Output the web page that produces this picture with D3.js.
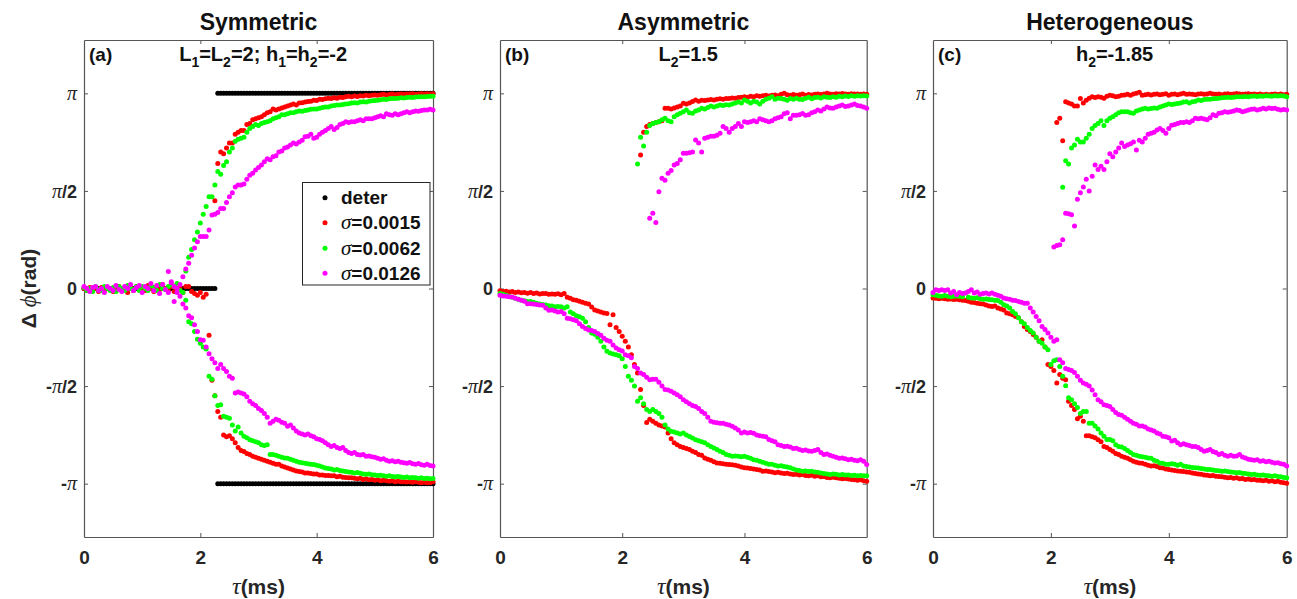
<!DOCTYPE html>
<html><head><meta charset="utf-8">
<script src="https://cdn.jsdelivr.net/npm/d3@7"></script>
<style>body{margin:0;background:#fff}svg{display:block}</style>
</head><body>
<svg id="c" width="1297" height="599"></svg>
<script>
// ---------- data (phase difference in units of pi, tau step 0.05 ms) ----------
const tauStep = 0.05;
const xTicks = [0, 2, 4, 6];
const yTicks = [-1, -0.5, 0, 0.5, 1];
const yTickLabels = [["-", "π", ""], ["-", "π", "/2"], ["0", "", ""], ["", "π", "/2"], ["", "π", ""]];
const panelTitles = ["Symmetric", "Asymmetric", "Heterogeneous"];
const panelTags = ["(a)", "(b)", "(c)"];
const seriesNames = ["deter", "σ=0.0015", "σ=0.0062", "σ=0.0126"];
const seriesColors = ["#000000", "#ff0000", "#00ff00", "#ff00ff"];

// deterministic (panel a): level segments [tauStart, tauEnd, value]
const deterA = [[0, 2.25, 0], [2.3, 6, 1], [2.3, 6, -1]];

// ---- panel (a) ----
const aRedLo = [0,-0.01,0.005,-0.01,0,-0.015,0.005,-0.01,0,-0.005,
-0.015,0,0.01,-0.01,0,-0.02,0.005,-0.01,0.01,-0.005,
0,-0.01,0.015,0,-0.015,0.01,-0.005,0.02,0,-0.01,
0.01,-0.015,0.02,0.005,-0.02,0.01,0.01,-0.015,-0.025,-0.035,
-0.02,-0.045,-0.03,-0.24,-0.47,-0.55,-0.63,-0.66,-0.75,-0.76,
-0.755,-0.77,-0.79,-0.815,-0.83,-0.835,-0.845,-0.85,-0.86,-0.865,
-0.87,-0.875,-0.88,-0.885,-0.89,-0.895,-0.9,-0.9,-0.91,-0.915,
-0.92,-0.925,-0.93,-0.935,-0.937,-0.94,-0.945,-0.945,-0.948,-0.95,
-0.95,-0.955,-0.955,-0.958,-0.958,-0.96,-0.96,-0.965,-0.962,-0.967,
-0.968,-0.97,-0.97,-0.972,-0.975,-0.972,-0.978,-0.975,-0.98,-0.978,
-0.982,-0.98,-0.985,-0.983,-0.985,-0.988,-0.985,-0.99,-0.988,-0.99,
-0.99,-0.992,-0.99,-0.993,-0.99,-0.993,-0.995,-0.993,-0.995,-0.995,-0.99];
const aRedHiStart = 2.25;
const aRedHi = [0.45,0.64,0.70,0.69,0.72,0.745,0.745,0.79,0.80,0.81,
0.81,0.84,0.845,0.865,0.87,0.875,0.88,0.89,0.9,0.905,
0.92,0.915,0.92,0.925,0.93,0.935,0.94,0.945,0.94,0.95,
0.952,0.955,0.958,0.96,0.965,0.963,0.97,0.968,0.972,0.975,
0.973,0.977,0.975,0.98,0.978,0.982,0.985,0.983,0.986,0.984,
0.988,0.986,0.99,0.988,0.99,0.992,0.99,0.993,0.995,0.992,
0.994,0.996,0.993,0.995,0.997,0.995,0.997,0.996,0.998,0.995,
0.997,0.998,0.996,0.998,0.997,0.998];
const aGreenLo = [0.005,-0.01,0,-0.015,0.01,-0.005,-0.01,0.01,0,-0.01,
0.005,-0.015,0.01,0,-0.01,0.015,0,-0.005,0.01,-0.01,
0.01,0,-0.01,0.015,0.005,-0.01,0.02,0,-0.005,0.01,
0.02,0.01,0.025,-0.01,-0.02,-0.06,-0.17,-0.18,-0.22,-0.26,
-0.28,-0.3,-0.31,-0.45,-0.465,-0.55,-0.6,-0.595,-0.655,-0.66,
-0.665,-0.7,-0.73,-0.71,-0.74,-0.757,-0.765,-0.775,-0.78,-0.785,
-0.79,-0.8,-0.805,-0.8,-0.85,-0.85,-0.855,-0.86,-0.865,-0.868,
-0.87,-0.875,-0.88,-0.885,-0.89,-0.893,-0.895,-0.898,-0.9,-0.902,
-0.905,-0.91,-0.915,-0.92,-0.922,-0.925,-0.93,-0.928,-0.932,-0.935,
-0.938,-0.94,-0.942,-0.945,-0.943,-0.947,-0.95,-0.952,-0.95,-0.954,
-0.955,-0.958,-0.957,-0.96,-0.962,-0.96,-0.963,-0.965,-0.963,-0.966,
-0.968,-0.966,-0.97,-0.968,-0.97,-0.972,-0.97,-0.973,-0.972,-0.975,-0.973];
const aGreenHiStart = 1.75;
const aGreenHi = [0.09,0.16,0.2,0.25,0.29,0.335,0.38,0.42,0.47,0.47,
0.53,0.6,0.585,0.63,0.65,0.7,0.72,0.755,0.765,0.77,
0.775,0.8,0.82,0.83,0.84,0.835,0.845,0.85,0.855,0.86,
0.87,0.875,0.88,0.89,0.89,0.895,0.9,0.9,0.905,0.91,
0.908,0.912,0.915,0.918,0.92,0.92,0.923,0.928,0.93,0.93,
0.935,0.938,0.94,0.94,0.943,0.945,0.947,0.95,0.952,0.95,
0.955,0.957,0.955,0.96,0.962,0.963,0.965,0.967,0.97,0.968,
0.972,0.974,0.973,0.975,0.977,0.976,0.978,0.98,0.979,0.981,
0.982,0.983,0.982,0.984,0.985,0.985];
const aMagLo = [0.01,0,-0.015,0.005,0.01,-0.01,0,-0.02,0.01,0,
-0.01,0.015,-0.005,-0.015,0.01,0,0.02,-0.01,0.005,0.015,
-0.02,0.01,0,0.025,-0.01,0.015,-0.025,0.02,-0.005,-0.02,
0.03,-0.067,-0.02,-0.04,-0.08,-0.1,-0.14,-0.15,-0.186,-0.22,
-0.262,-0.265,-0.3,-0.334,-0.36,-0.38,-0.41,-0.39,-0.41,-0.425,
-0.45,-0.46,-0.535,-0.53,-0.535,-0.54,-0.555,-0.578,-0.59,-0.6,
-0.615,-0.625,-0.64,-0.66,-0.69,-0.68,-0.67,-0.675,-0.685,-0.69,
-0.706,-0.7,-0.715,-0.73,-0.74,-0.745,-0.75,-0.745,-0.755,-0.76,
-0.77,-0.774,-0.78,-0.79,-0.8,-0.81,-0.805,-0.815,-0.82,-0.815,
-0.83,-0.84,-0.845,-0.84,-0.85,-0.853,-0.85,-0.86,-0.858,-0.862,
-0.865,-0.87,-0.875,-0.872,-0.88,-0.885,-0.882,-0.888,-0.885,-0.89,
-0.893,-0.895,-0.892,-0.898,-0.9,-0.897,-0.903,-0.905,-0.9,-0.907,-0.91];
const aMagHiStart = 1.45;
const aMagHi = [0.087,0.035,0.01,0.0,0.02,0.06,0.1,0.13,0.17,0.207,
0.24,0.266,0.266,0.266,0.3,0.377,0.38,0.39,0.41,0.41,
0.44,0.47,0.49,0.52,0.53,0.53,0.535,0.56,0.58,0.59,
0.607,0.62,0.633,0.65,0.665,0.66,0.675,0.68,0.7,0.705,
0.72,0.725,0.735,0.745,0.74,0.75,0.76,0.778,0.78,0.79,
0.77,0.775,0.79,0.8,0.81,0.82,0.83,0.815,0.825,0.84,
0.845,0.855,0.85,0.855,0.855,0.86,0.865,0.86,0.87,0.87,
0.87,0.875,0.88,0.885,0.88,0.895,0.89,0.888,0.895,0.89,
0.895,0.9,0.905,0.9,0.905,0.91,0.908,0.912,0.915,0.915,
0.918,0.915];

// ---- panel (b) ----
const bRedLo = [-0.012,-0.015,-0.014,-0.018,-0.016,-0.02,-0.018,-0.022,-0.02,-0.024,
-0.02,-0.025,-0.023,-0.028,-0.026,-0.025,-0.03,-0.028,-0.03,-0.027,
-0.032,-0.025,-0.045,-0.05,-0.058,-0.06,-0.065,-0.07,-0.075,-0.08,
-0.095,-0.11,-0.115,-0.12,-0.125,-0.128,-0.186,-0.135,-0.2,-0.22,
-0.245,-0.27,-0.3,-0.34,-0.39,-0.433,-0.518,-0.6,-0.686,-0.67,
-0.68,-0.69,-0.70,-0.705,-0.71,-0.74,-0.77,-0.79,-0.80,-0.81,
-0.815,-0.82,-0.825,-0.834,-0.84,-0.85,-0.855,-0.868,-0.875,-0.88,
-0.888,-0.894,-0.896,-0.898,-0.9,-0.902,-0.903,-0.905,-0.91,-0.915,
-0.919,-0.92,-0.922,-0.925,-0.928,-0.93,-0.936,-0.935,-0.938,-0.94,
-0.944,-0.942,-0.945,-0.948,-0.947,-0.95,-0.953,-0.952,-0.955,-0.953,
-0.958,-0.96,-0.957,-0.962,-0.96,-0.965,-0.963,-0.968,-0.97,-0.967,
-0.97,-0.972,-0.975,-0.973,-0.976,-0.978,-0.98,-0.982,-0.98,-0.985,-0.988];
const bRedHiStart = 2.3;
const bRedHi = [0.684,0.8,0.83,0.84,0.845,0.85,0.855,0.86,0.923,0.923,
0.92,0.925,0.93,0.935,0.949,0.945,0.95,0.958,0.966,0.96,
0.965,0.963,0.966,0.968,0.966,0.97,0.972,0.97,0.974,0.973,
0.976,0.975,0.978,0.98,0.983,0.98,0.985,0.983,0.987,0.985,
0.988,0.99,0.986,0.99,0.992,0.988,0.995,1.0,0.993,0.99,
0.994,0.99,0.993,0.996,0.99,0.994,0.992,0.995,0.997,0.994,
0.996,1.0,0.997,0.995,0.998,0.996,0.999,0.997,0.995,0.998,
0.996,0.997,0.995,0.997,0.995];
const bGreenLo = [-0.026,-0.03,-0.035,-0.04,-0.045,-0.05,-0.055,-0.06,-0.063,-0.067,
-0.067,-0.07,-0.075,-0.08,-0.082,-0.085,-0.088,-0.09,-0.094,-0.092,
-0.094,-0.1,-0.094,-0.12,-0.13,-0.14,-0.145,-0.152,-0.17,-0.2,
-0.228,-0.235,-0.25,-0.27,-0.3,-0.322,-0.33,-0.335,-0.34,-0.345,
-0.36,-0.4,-0.45,-0.47,-0.5,-0.578,-0.56,-0.59,-0.62,-0.63,
-0.62,-0.63,-0.64,-0.66,-0.7,-0.72,-0.732,-0.735,-0.74,-0.745,
-0.74,-0.75,-0.758,-0.766,-0.775,-0.78,-0.785,-0.79,-0.8,-0.81,
-0.817,-0.825,-0.834,-0.84,-0.85,-0.855,-0.86,-0.858,-0.86,-0.862,
-0.86,-0.865,-0.87,-0.877,-0.88,-0.885,-0.89,-0.895,-0.9,-0.9,
-0.905,-0.91,-0.908,-0.912,-0.915,-0.919,-0.925,-0.93,-0.932,-0.936,
-0.935,-0.938,-0.936,-0.94,-0.942,-0.945,-0.948,-0.95,-0.953,-0.95,
-0.952,-0.955,-0.953,-0.956,-0.955,-0.958,-0.957,-0.96,-0.958,-0.96,-0.96];
const bGreenHiStart = 2.25;
const bGreenHi = [0.638,0.775,0.73,0.8,0.835,0.845,0.85,0.855,0.865,0.872,
0.86,0.855,0.88,0.89,0.898,0.905,0.915,0.9,0.898,0.91,
0.915,0.923,0.92,0.928,0.935,0.93,0.935,0.94,0.938,0.942,
0.94,0.945,0.95,0.955,0.95,0.966,0.96,0.95,0.96,0.955,
0.945,0.96,0.97,0.975,0.983,0.97,0.975,0.974,0.97,0.965,
0.974,0.97,0.975,0.97,0.968,0.975,0.98,0.972,0.978,0.98,
0.976,0.982,0.98,0.978,0.983,0.98,0.985,0.983,0.986,0.984,
0.987,0.985,0.988,0.986,0.987,0.986];
const bMagLo = [-0.035,-0.038,-0.04,-0.042,-0.044,-0.05,-0.055,-0.06,-0.065,-0.078,
-0.078,-0.08,-0.082,-0.085,-0.086,-0.1,-0.112,-0.11,-0.115,-0.12,
-0.118,-0.13,-0.152,-0.155,-0.16,-0.165,-0.18,-0.195,-0.205,-0.212,
-0.215,-0.22,-0.23,-0.24,-0.255,-0.265,-0.27,-0.29,-0.305,-0.314,
-0.32,-0.34,-0.345,-0.355,-0.4,-0.41,-0.433,-0.44,-0.455,-0.467,
-0.465,-0.465,-0.48,-0.5,-0.518,-0.52,-0.527,-0.535,-0.544,-0.555,
-0.57,-0.58,-0.59,-0.6,-0.605,-0.615,-0.63,-0.64,-0.66,-0.68,
-0.685,-0.688,-0.69,-0.69,-0.695,-0.7,-0.706,-0.715,-0.725,-0.74,
-0.735,-0.74,-0.738,-0.742,-0.75,-0.755,-0.757,-0.76,-0.774,-0.78,
-0.785,-0.8,-0.805,-0.81,-0.808,-0.812,-0.82,-0.818,-0.825,-0.83,
-0.828,-0.832,-0.834,-0.83,-0.825,-0.84,-0.85,-0.848,-0.855,-0.86,
-0.865,-0.87,-0.868,-0.872,-0.877,-0.875,-0.88,-0.882,-0.878,-0.885,-0.902];
const bMagHiStart = 2.45;
const bMagHi = [0.36,0.385,0.338,0.496,0.565,0.555,0.59,0.605,0.633,0.64,
0.66,0.693,0.693,0.695,0.7,0.761,0.745,0.70,0.77,0.775,
0.78,0.78,0.785,0.795,0.83,0.82,0.8,0.82,0.83,0.846,
0.83,0.855,0.85,0.855,0.86,0.855,0.87,0.865,0.86,0.855,
0.86,0.87,0.875,0.88,0.895,0.9,0.87,0.888,0.888,0.89,
0.897,0.888,0.89,0.9,0.905,0.914,0.91,0.92,0.93,0.925,
0.923,0.93,0.935,0.94,0.932,0.935,0.94,0.945,0.938,0.935,
0.93,0.923];

// ---- panel (c) ----
const cRedLo = [-0.049,-0.05,-0.052,-0.05,-0.053,-0.055,-0.054,-0.056,-0.055,-0.058,
-0.06,-0.062,-0.065,-0.07,-0.072,-0.075,-0.078,-0.08,-0.085,-0.09,
-0.092,-0.09,-0.1,-0.105,-0.11,-0.126,-0.13,-0.135,-0.143,-0.15,
-0.17,-0.195,-0.21,-0.22,-0.236,-0.25,-0.27,-0.262,-0.3,-0.39,
-0.4,-0.42,-0.484,-0.44,-0.46,-0.467,-0.578,-0.6,-0.62,-0.668,
-0.655,-0.68,-0.754,-0.755,-0.76,-0.765,-0.775,-0.785,-0.81,-0.815,
-0.825,-0.834,-0.845,-0.85,-0.86,-0.865,-0.87,-0.878,-0.885,-0.89,
-0.894,-0.895,-0.9,-0.905,-0.91,-0.908,-0.912,-0.918,-0.92,-0.925,
-0.928,-0.93,-0.932,-0.935,-0.936,-0.938,-0.94,-0.942,-0.945,-0.948,
-0.95,-0.952,-0.955,-0.957,-0.96,-0.958,-0.962,-0.963,-0.965,-0.967,
-0.97,-0.968,-0.972,-0.97,-0.975,-0.973,-0.978,-0.976,-0.98,-0.978,
-0.983,-0.982,-0.985,-0.983,-0.987,-0.985,-0.99,-0.988,-0.993,-0.995,-0.998];
const cRedHiStart = 2.1;
const cRedHi = [0.85,0.872,0.757,0.957,0.95,0.945,0.935,0.935,0.974,0.95,
0.965,0.975,0.983,0.978,0.983,0.98,0.975,0.985,0.99,0.988,
0.983,0.985,0.99,0.992,0.995,0.99,0.996,1.0,1.005,0.99,
0.993,0.995,0.992,0.995,0.997,0.993,0.995,0.998,0.99,0.995,
0.997,0.993,0.996,1.0,0.995,0.997,0.995,0.993,0.996,0.998,
0.995,0.997,1.0,0.996,0.995,0.997,0.993,0.996,0.998,0.995,
0.997,0.999,0.996,0.995,0.997,0.998,0.995,0.996,0.994,0.996,
0.993,0.995,0.993,0.995,0.997,0.994,0.996,0.993,0.995];
const cGreenLo = [-0.032,-0.035,-0.038,-0.04,-0.036,-0.04,-0.042,-0.04,-0.038,-0.04,
-0.042,-0.023,-0.045,-0.049,-0.05,-0.048,-0.052,-0.055,-0.054,-0.056,
-0.058,-0.06,-0.062,-0.07,-0.083,-0.09,-0.1,-0.118,-0.13,-0.15,
-0.17,-0.18,-0.2,-0.215,-0.228,-0.25,-0.27,-0.28,-0.3,-0.314,
-0.39,-0.37,-0.365,-0.4,-0.45,-0.498,-0.56,-0.57,-0.59,-0.61,
-0.64,-0.63,-0.63,-0.69,-0.69,-0.705,-0.72,-0.74,-0.757,-0.774,
-0.774,-0.78,-0.8,-0.81,-0.812,-0.82,-0.83,-0.84,-0.85,-0.855,
-0.86,-0.862,-0.865,-0.868,-0.87,-0.88,-0.885,-0.894,-0.895,-0.9,
-0.9,-0.898,-0.9,-0.905,-0.9,-0.91,-0.912,-0.915,-0.917,-0.919,
-0.92,-0.922,-0.925,-0.928,-0.927,-0.93,-0.932,-0.934,-0.936,-0.935,
-0.938,-0.94,-0.942,-0.944,-0.943,-0.946,-0.948,-0.95,-0.953,-0.952,
-0.955,-0.957,-0.956,-0.958,-0.96,-0.962,-0.96,-0.963,-0.965,-0.968,-0.97];
const cGreenHiStart = 2.2;
const cGreenHi = [0.519,0.655,0.638,0.72,0.735,0.765,0.75,0.75,0.77,0.79,
0.82,0.835,0.845,0.86,0.835,0.86,0.872,0.88,0.89,0.9,
0.905,0.905,0.905,0.9,0.898,0.91,0.915,0.92,0.923,0.92,
0.922,0.925,0.923,0.93,0.935,0.94,0.945,0.943,0.945,0.948,
0.95,0.955,0.957,0.95,0.957,0.96,0.966,0.963,0.968,0.97,
0.97,0.972,0.974,0.975,0.977,0.978,0.98,0.979,0.98,0.983,
0.982,0.983,0.984,0.983,0.985,0.986,0.984,0.986,0.985,0.987,
0.986,0.985,0.987,0.986,0.988,0.986,0.983];
const cMagLo = [-0.02,-0.006,-0.01,-0.006,-0.01,-0.006,-0.023,-0.015,-0.032,-0.02,
-0.025,-0.023,-0.015,-0.006,-0.023,-0.018,-0.03,-0.025,-0.023,-0.028,
-0.023,-0.03,-0.035,-0.04,-0.049,-0.052,-0.055,-0.06,-0.062,-0.066,
-0.07,-0.075,-0.075,-0.1,-0.12,-0.143,-0.165,-0.195,-0.21,-0.228,
-0.25,-0.27,-0.262,-0.365,-0.38,-0.41,-0.415,-0.42,-0.43,-0.45,
-0.47,-0.484,-0.49,-0.5,-0.52,-0.545,-0.57,-0.58,-0.595,-0.6,
-0.604,-0.62,-0.635,-0.646,-0.65,-0.66,-0.67,-0.68,-0.69,-0.695,
-0.705,-0.705,-0.71,-0.72,-0.725,-0.73,-0.74,-0.745,-0.757,-0.76,
-0.765,-0.782,-0.778,-0.79,-0.8,-0.795,-0.8,-0.805,-0.81,-0.81,
-0.815,-0.825,-0.834,-0.83,-0.825,-0.835,-0.84,-0.85,-0.845,-0.855,
-0.86,-0.855,-0.86,-0.858,-0.85,-0.863,-0.868,-0.875,-0.877,-0.88,
-0.878,-0.885,-0.883,-0.888,-0.885,-0.89,-0.894,-0.893,-0.898,-0.9,-0.91];
const cMagHiStart = 2.05;
const cMagHi = [0.212,0.22,0.224,0.25,0.386,0.383,0.378,0.32,0.457,0.49,
0.52,0.56,0.5,0.575,0.633,0.61,0.627,0.61,0.65,0.69,
0.675,0.7,0.72,0.745,0.727,0.735,0.742,0.75,0.71,0.76,
0.75,0.77,0.79,0.795,0.8,0.812,0.82,0.81,0.795,0.82,
0.837,0.84,0.845,0.85,0.85,0.855,0.85,0.86,0.872,0.87,
0.872,0.868,0.864,0.875,0.89,0.885,0.898,0.9,0.905,0.903,
0.905,0.91,0.915,0.912,0.905,0.91,0.915,0.918,0.92,0.915,
0.918,0.923,0.92,0.925,0.922,0.923,0.918,0.915,0.917,0.915];

// ---------- layout ----------
const SANS = '"Liberation Sans", Arial, Helvetica, sans-serif';
const SERIF = '"Liberation Serif", "Times New Roman", serif';
const TXT = '#262626';
const AX = '#555';
const yTop = 40, yBot = 537;
const panelX = [[84, 433], [500, 866.7], [933, 1286.7]];
const panelNotes = [
  [["L", ""], ["1", "sub"], ["=L", ""], ["2", "sub"], ["=2; h", ""], ["1", "sub"], ["=h", ""], ["2", "sub"], ["=-2", ""]],
  [["L", ""], ["2", "sub"], ["=1.5", ""]],
  [["h", ""], ["2", "sub"], ["=-1.85", ""]]
];

function pts(vals, start) { return vals.map((v, i) => ({ t: start + i * tauStep, v })); }
function deterPts(segs) {
  const out = [];
  segs.forEach(([a, b, v]) => d3.range(a, b + 1e-9, tauStep).forEach(t => out.push({ t, v })));
  return out;
}

const panels = [
  { deter: deterPts(deterA), series: [
    [pts(aRedLo, 0), pts(aRedHi, aRedHiStart)],
    [pts(aGreenLo, 0), pts(aGreenHi, aGreenHiStart)],
    [pts(aMagLo, 0), pts(aMagHi, aMagHiStart)]] },
  { deter: null, series: [
    [pts(bRedLo, 0), pts(bRedHi, bRedHiStart)],
    [pts(bGreenLo, 0), pts(bGreenHi, bGreenHiStart)],
    [pts(bMagLo, 0), pts(bMagHi, bMagHiStart)]] },
  { deter: null, series: [
    [pts(cRedLo, 0), pts(cRedHi, cRedHiStart)],
    [pts(cGreenLo, 0), pts(cGreenHi, cGreenHiStart)],
    [pts(cMagLo, 0), pts(cMagHi, cMagHiStart)]] }
];

const svg = d3.select('#c');
const y = d3.scaleLinear().domain([-4 / Math.PI, 4 / Math.PI]).range([yBot, yTop]);
const R = 2.5;

panels.forEach((p, k) => {
  const [x0, x1] = panelX[k];
  const x = d3.scaleLinear().domain([0, 6]).range([x0, x1]);
  const g = svg.append('g');

  // box + ticks
  const tick = 4;
  const bottom = g.append('g').attr('transform', `translate(0,${yBot})`)
    .call(d3.axisBottom(x).tickValues(xTicks).tickFormat(d3.format('d')).tickSizeInner(-tick).tickSizeOuter(0).tickPadding(14));
  const top = g.append('g').attr('transform', `translate(0,${yTop})`)
    .call(d3.axisTop(x).tickValues(xTicks).tickSizeInner(-tick).tickSizeOuter(0).tickFormat(''));
  const left = g.append('g').attr('transform', `translate(${x0},0)`)
    .call(d3.axisLeft(y).tickValues(yTicks).tickSizeInner(-tick).tickSizeOuter(0).tickPadding(7));
  const right = g.append('g').attr('transform', `translate(${x1},0)`)
    .call(d3.axisRight(y).tickValues(yTicks).tickSizeInner(-tick).tickSizeOuter(0).tickFormat(''));
  [bottom, top, left, right].forEach(a => {
    a.selectAll('path.domain').attr('stroke', AX).attr('stroke-width', 1.2);
    a.selectAll('.tick line').attr('stroke', AX).attr('stroke-width', 1);
  });
  bottom.selectAll('.tick line').filter(d => d === 0 || d === 6).remove();
  top.selectAll('.tick line').filter(d => d === 0 || d === 6).remove();
  bottom.selectAll('text').attr('font-family', SANS).attr('font-weight', 'bold')
    .attr('font-size', 19).attr('fill', TXT).attr('dy', '0.71em');
  left.selectAll('text').each(function (d) {
    const idx = yTicks.indexOf(d);
    const [a, b, c] = yTickLabels[idx];
    const t = d3.select(this).text('').attr('fill', TXT).attr('font-size', 18).attr('dy', '0.35em');
    if (a) t.append('tspan').attr('font-family', SANS).attr('font-weight', 'bold').text(a);
    if (b) t.append('tspan').attr('font-family', SERIF).attr('font-style', 'italic').attr('font-size', 20).text(b);
    if (c) t.append('tspan').attr('font-family', SANS).attr('font-weight', 'bold').text(c);
  });

  // data points
  const plot = g.append('g');
  if (p.deter) {
    plot.append('g').selectAll('circle').data(p.deter).join('circle')
      .attr('cx', d => x(d.t)).attr('cy', d => y(d.v)).attr('r', R).attr('fill', seriesColors[0]);
  }
  p.series.forEach((branches, si) => {
    branches.forEach(br => {
      plot.append('g').selectAll('circle').data(br).join('circle')
        .attr('cx', d => x(d.t)).attr('cy', d => y(d.v)).attr('r', R).attr('fill', seriesColors[si + 1]);
    });
  });

  // title
  g.append('text').attr('x', (x0 + x1) / 2).attr('y', 30).attr('text-anchor', 'middle')
    .attr('font-family', SANS).attr('font-weight', 'bold').attr('font-size', 23).attr('fill', '#111')
    .text(panelTitles[k]);
  // tag
  g.append('text').attr('x', x0 + 5).attr('y', 61).attr('font-family', SANS).attr('font-weight', 'bold')
    .attr('font-size', 19).attr('fill', '#111').text(panelTags[k]);
  // note with subscripts
  const note = g.append('text').attr('x', x(3.08)).attr('y', 61).attr('text-anchor', 'middle')
    .attr('font-family', SANS).attr('font-weight', 'bold').attr('font-size', 20).attr('fill', '#111');
  let inSub = false;
  panelNotes[k].forEach(([s, kind]) => {
    if (kind === 'sub') {
      note.append('tspan').attr('font-size', 14).attr('dy', 6).text(s);
      inSub = true;
    } else {
      note.append('tspan').attr('dy', inSub ? -6 : 0).text(s);
      inSub = false;
    }
  });

  // x label
  const xl = g.append('text').attr('x', (x0 + x1) / 2).attr('y', 594).attr('text-anchor', 'middle')
    .attr('font-size', 21).attr('fill', TXT);
  xl.append('tspan').attr('font-family', SERIF).attr('font-style', 'italic').attr('font-size', 24).text('τ');
  xl.append('tspan').attr('font-family', SANS).attr('font-weight', 'bold').text('(ms)');
});

// y label
const yl = svg.append('text').attr('transform', `translate(36,${(yTop + yBot) / 2}) rotate(-90)`)
  .attr('text-anchor', 'middle').attr('font-size', 21).attr('fill', TXT);
yl.append('tspan').attr('font-family', SANS).attr('font-weight', 'bold').text('Δ ');
yl.append('tspan').attr('font-family', SERIF).attr('font-style', 'italic').attr('font-size', 23).text('ϕ');
yl.append('tspan').attr('font-family', SANS).attr('font-weight', 'bold').text('(rad)');

// legend (panel a)
const lg = svg.append('g');
lg.append('rect').attr('x', 302.5).attr('y', 182.5).attr('width', 127.5).attr('height', 102.5)
  .attr('fill', '#fff').attr('stroke', '#262626').attr('stroke-width', 1);
const legY = [197.7, 222.7, 248.3, 273.3];
seriesNames.forEach((name, i) => {
  lg.append('circle').attr('cx', 325).attr('cy', legY[i]).attr('r', R).attr('fill', seriesColors[i]);
  const t = lg.append('text').attr('x', 341).attr('y', legY[i]).attr('dy', '0.35em')
    .attr('font-size', 19).attr('fill', '#111');
  if (name.startsWith('σ')) {
    t.append('tspan').attr('font-family', SERIF).attr('font-style', 'italic').attr('font-size', 21).text('σ');
    t.append('tspan').attr('font-family', SANS).attr('font-weight', 'bold').text(name.slice(1));
  } else {
    t.append('tspan').attr('font-family', SANS).attr('font-weight', 'bold').text(name);
  }
});
</script>
</body></html>
